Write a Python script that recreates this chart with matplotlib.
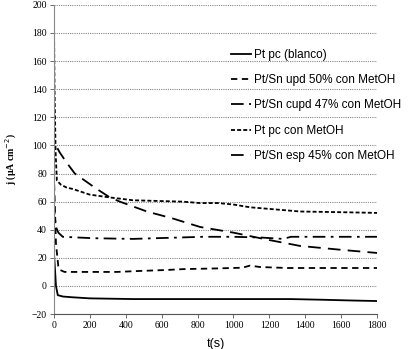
"""Cronoamperometria: j vs t para Pt pc y Pt/Sn con MetOH."""
import matplotlib
matplotlib.use("Agg")
import matplotlib.pyplot as plt  # noqa: E402

# Pt pc (blanco)
t_blanco = [0, 5, 12, 22, 50, 100, 200, 440, 700, 1000, 1315, 1500, 1650, 1800]
j_blanco = [25, 15, 0, -6.5, -7.5, -8, -8.8, -9.3, -9.3, -9.3, -9.3, -9.8, -10.3, -10.7]

# Pt/Sn upd 50% con MetOH
t_upd = [0, 5, 12, 25, 33, 60, 200, 350, 480, 630, 720, 908, 1050, 1092, 1148, 1300, 1500, 1800]
j_upd = [80, 60, 30, 14, 11.5, 10, 10, 10, 10.7, 11.4, 12, 12.5, 13, 14.5, 13.5, 12.8, 12.8, 12.8]

# Pt/Sn cupd 47% con MetOH
t_cupd = [0, 5, 12, 25, 50, 217, 440, 700, 830, 1000, 1150, 1277, 1320, 1500, 1800]
j_cupd = [60, 50, 42, 38, 35, 34, 33.5, 34.5, 35, 35, 34.5, 33.5, 35, 35, 35]

# Pt pc con MetOH
t_pc = [0, 4, 10, 17, 40, 72, 106, 200, 312, 440, 719, 814, 914, 998, 1092, 1371, 1600, 1800]
j_pc = [200, 140, 95, 75, 72, 70, 69, 65, 63, 61, 60, 59, 59, 58, 56, 53, 52.5, 52]

# Pt/Sn esp 45% con MetOH
t_esp = [20, 33, 70, 117, 228, 312, 368, 518, 663, 814, 998, 1187, 1371, 1611, 1800]
j_esp = [98, 95, 88, 80, 70, 63, 60, 53, 48, 42, 38, 33, 28.5, 25.6, 23.5]

LABELS = ["Pt pc (blanco)", "Pt/Sn upd 50% con MetOH",
          "Pt/Sn cupd 47% con MetOH", "Pt pc con MetOH",
          "Pt/Sn esp 45% con MetOH"]

fig = plt.figure(figsize=(4.14, 3.49), dpi=100)
ax = fig.add_axes([0.130, 0.100, 0.781, 0.886])

kw = dict(color="black", lw=1.3)
ax.plot(t_blanco, j_blanco, ls="-", label=LABELS[0], **kw)
ax.plot(t_upd, j_upd, ls=(0, (3.5, 2.5)), label=LABELS[1], **kw)
ax.plot(t_cupd, j_cupd, ls=(0, (7, 3, 1.5, 3)), label=LABELS[2], **kw)
ax.plot(t_pc, j_pc, ls=(0, (2.2, 1.2)), label=LABELS[3], **kw)
ax.plot(t_esp, j_esp, ls=(0, (7, 4)), label=LABELS[4], **kw)

ax.set_xlim(0, 1800)
ax.set_ylim(-20, 200)
ax.set_xticks(range(0, 1801, 200))
ax.set_yticks(range(-20, 201, 20))
ax.yaxis.grid(True, color="#888888", ls=(0, (1, 1)), lw=0.8)
ax.set_axisbelow(True)

for s in ("top", "right"):
    ax.spines[s].set_visible(False)
ax.spines["left"].set_color("#888888")
ax.spines["left"].set_linestyle((0, (1, 1)))
ax.spines["bottom"].set_color("#555555")
ax.tick_params(axis="both", length=3, width=0.6, color="#555555",
               labelsize=7, pad=2)
for lab in ax.get_xticklabels() + ax.get_yticklabels():
    lab.set_family("Liberation Serif")

ax.set_xlabel("t(s)", family="Liberation Sans", fontsize=9, labelpad=6)
ax.set_ylabel("j (µA cm$^{-2}$)", family="Liberation Serif",
              fontsize=7, fontweight="bold", labelpad=9)

ax.legend(loc="upper left", bbox_to_anchor=(0.533, 0.891),
          bbox_transform=fig.transFigure, frameon=False,
          prop={"family": "Liberation Sans", "size": 8.5},
          handlelength=1.7, handletextpad=0.2, labelspacing=1.13)

fig.savefig("out.png", dpi=100)
